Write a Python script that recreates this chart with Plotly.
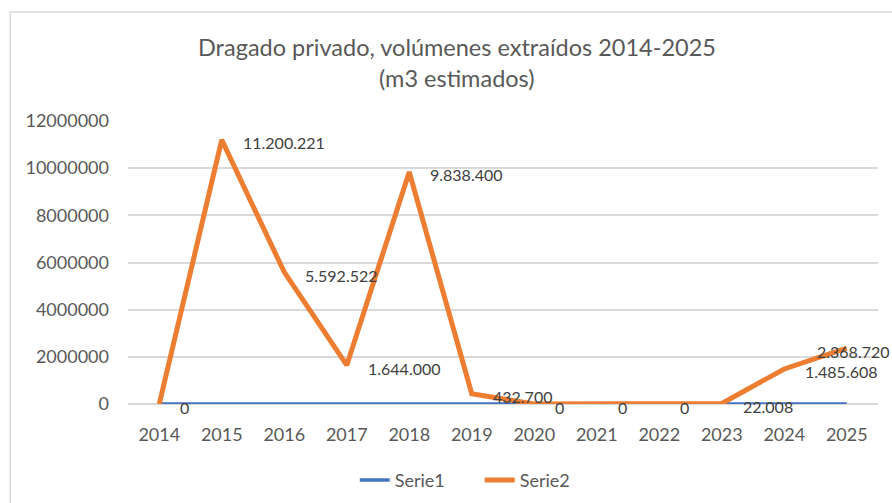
import plotly.graph_objects as go

years = ["2014", "2015", "2016", "2017", "2018", "2019", "2020", "2021", "2022", "2023", "2024", "2025"]
serie1 = [2014, 2015, 2016, 2017, 2018, 2019, 2020, 2021, 2022, 2023, 2024, 2025]
serie2 = [0, 11200221, 5592522, 1644000, 9838400, 432700, 0, 0, 0, 22008, 1485608, 2368720]
serie2_labels = ["0", "11.200.221", "5.592.522", "1.644.000", "9.838.400", "432.700",
                 "0", "0", "0", "22.008", "1.485.608", "2.368.720"]
y_ticks = [0, 2000000, 4000000, 6000000, 8000000, 10000000, 12000000]
title_lines = ["Dragado privado, volúmenes extraídos 2014-2025", "(m3 estimados)"]

FONT = "Lato, 'Open Sans', sans-serif"
GREY = "#595959"

fig = go.Figure()
fig.add_trace(go.Scatter(x=years, y=serie1, mode="lines", name="Serie1",
                         line=dict(color="#4472C4", width=3.5)))
fig.add_trace(go.Scatter(x=years, y=serie2, mode="lines", name="Serie2",
                         line=dict(color="#ED7D31", width=5)))

for i, (v, lab) in enumerate(zip(serie2, serie2_labels)):
    last = i == len(years) - 1
    fig.add_annotation(x=i, y=v, xref="x", yref="y", text=lab, showarrow=False,
                       xanchor="left", yanchor="middle",
                       xshift=-32 if last else 19, yshift=-3,
                       font=dict(family=FONT, size=16, color="#404040"))

fig.add_annotation(x=0.4393, y=1.2615, xref="paper", yref="paper", text=title_lines[0],
                   showarrow=False, xanchor="center", yanchor="middle",
                   font=dict(family=FONT, size=23.5, color=GREY))
fig.add_annotation(x=0.4393, y=1.152, xref="paper", yref="paper", text=title_lines[1],
                   showarrow=False, xanchor="center", yanchor="middle",
                   font=dict(family=FONT, size=23.5, color=GREY))

fig.add_shape(type="rect", xref="paper", yref="paper",
              x0=-0.157, x1=1.2, y0=-0.6, y1=1.385,
              line=dict(color="#D9D9D9", width=1.5), fillcolor="rgba(0,0,0,0)", layer="below")

fig.update_layout(
    width=892, height=503,
    margin=dict(l=128, r=14, t=121, b=99, autoexpand=False),
    paper_bgcolor="white", plot_bgcolor="white",
    font=dict(family=FONT, color=GREY, size=18),
    showlegend=True,
    legend=dict(orientation="h", x=0.469, xanchor="center", y=-0.27, yanchor="middle",
                font=dict(family=FONT, size=18, color=GREY), entrywidth=80),
    xaxis=dict(type="category", range=[-0.5, 11.5], showgrid=False, showline=False,
               zeroline=False, ticks="", ticklabelstandoff=18, automargin=False,
               tickfont=dict(family=FONT, size=18, color=GREY)),
    yaxis=dict(range=[0, 12000000], tickvals=y_ticks, tickformat="d", automargin=False,
               showgrid=True, gridcolor="#D9D9D9", gridwidth=1.5,
               zeroline=True, zerolinecolor="#D9D9D9", zerolinewidth=1.5,
               showline=False, ticks="", ticklabelstandoff=18,
               tickfont=dict(family=FONT, size=18, color=GREY)),
)

fig.write_html("out.html", config={"displayModeBar": False},
               post_script="document.body.style.margin='0';document.body.style.overflow='hidden';")
